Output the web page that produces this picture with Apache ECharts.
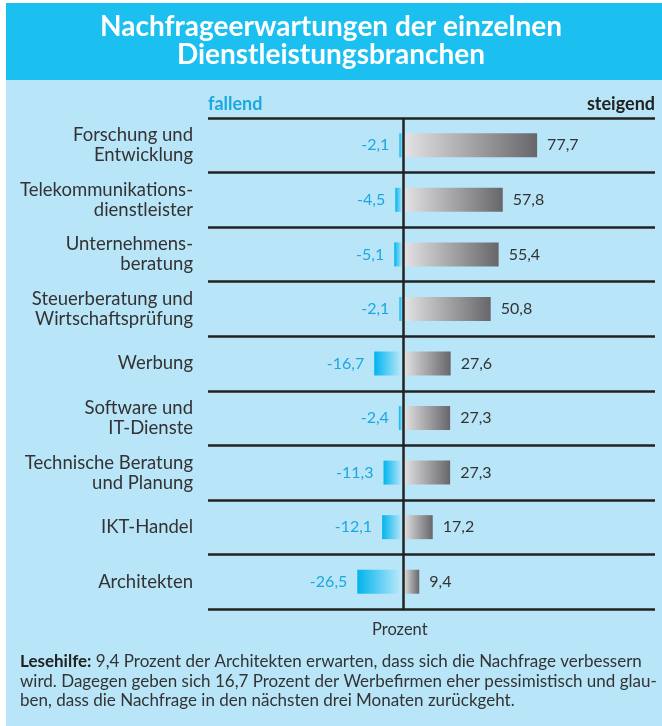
<!DOCTYPE html>
<html>
<head>
<meta charset="utf-8">
<script src="https://cdn.jsdelivr.net/npm/echarts@6/dist/echarts.min.js"></script>
<style>
  html, body { margin: 0; padding: 0; background: #fff; }
  #chart { width: 662px; height: 726px; }
</style>
</head>
<body>
<div id="chart"></div>
<script>
// Branchen (von oben nach unten)
var branchen = [
    'Forschung und\nEntwicklung',
    'Telekommunikations-\ndienstleister',
    'Unternehmens-\nberatung',
    'Steuerberatung und\nWirtschaftsprüfung',
    'Werbung',
    'Software und\nIT-Dienste',
    'Technische Beratung\nund Planung',
    'IKT-Handel',
    'Architekten'
];
// Anteile in Prozent
var fallend = [-2.1, -4.5, -5.1, -2.1, -16.7, -2.4, -11.3, -12.1, -26.5];
var steigend = [77.7, 57.8, 55.4, 50.8, 27.6, 27.3, 27.3, 17.2, 9.4];

var fontName = 'Lato, "Open Sans", sans-serif';

function komma(v) {
    return String(v).replace('.', ',');
}

var myChart = echarts.init(document.getElementById('chart'));
myChart.setOption({
    backgroundColor: '#ffffff',
    animation: false,
    textStyle: {fontFamily: fontName},
    graphic: [
        // Hintergrund
        {type: 'rect', z: -10, shape: {x: 6, y: 3, width: 656, height: 723}, style: {fill: '#b9e5f8'}},
        {type: 'rect', z: -9, shape: {x: 6, y: 3, width: 656, height: 77}, style: {fill: '#1bbff0'}},
        {
            type: 'text', left: 'center', top: 13,
            style: {
                text: 'Nachfrageerwartungen der einzelnen\nDienstleistungsbranchen',
                fill: '#ffffff', font: 'bold 28px ' + fontName,
                textAlign: 'center', lineHeight: 28
            }
        },
        {type: 'text', left: 208, top: 95, style: {text: 'fallend', fill: '#1ba8e0', font: 'bold 18px ' + fontName}},
        {type: 'text', right: 7, top: 95, style: {text: 'steigend', fill: '#222222', font: 'bold 18px ' + fontName}},
        {type: 'text', left: 372, top: 621, style: {text: 'Prozent', fill: '#333333', font: '16.5px ' + fontName}},
        {
            type: 'text', left: 20, top: 652,
            style: {
                text: '{b|Lesehilfe:} 9,4 Prozent der Architekten erwarten, dass sich die Nachfrage verbessern\n' +
                    'wird. Dagegen geben sich 16,7 Prozent der Werbefirmen eher pessimistisch und glau-\n' +
                    'ben, dass die Nachfrage in den nächsten drei Monaten zurückgeht.',
                fill: '#333333', font: '17px ' + fontName, lineHeight: 19.5,
                rich: {
                    b: {fontWeight: 'bold', fontSize: 17, fontFamily: fontName, fill: '#222222'}
                }
            }
        }
    ],
    grid: {left: 208, right: 7, top: 118, bottom: 117},
    xAxis: {
        type: 'value',
        min: -113,
        max: 146,
        show: false
    },
    yAxis: {
        type: 'category',
        inverse: true,
        data: branchen,
        axisLine: {show: false},
        axisTick: {show: false},
        axisLabel: {
            margin: 15,
            color: '#333333',
            fontSize: 18.5,
            lineHeight: 20,
            fontFamily: fontName
        },
        splitLine: {
            show: true,
            lineStyle: {color: '#222222', width: 2.5}
        }
    },
    series: [
        {
            name: 'fallend',
            type: 'bar',
            stack: 'a',
            barWidth: 24,
            data: fallend,
            itemStyle: {
                color: new echarts.graphic.LinearGradient(0, 0, 1, 0, [
                    {offset: 0, color: '#00b4ee'},
                    {offset: 1, color: '#c4eafa'}
                ])
            },
            label: {
                show: true,
                position: 'left',
                distance: 10,
                color: '#1ba8e0',
                fontSize: 16,
                fontFamily: fontName,
                formatter: function (p) { return komma(p.value); }
            },
            markLine: {
                silent: true,
                symbol: 'none',
                label: {show: false},
                lineStyle: {color: '#222222', width: 2.5, type: 'solid'},
                data: [{xAxis: 0}]
            }
        },
        {
            name: 'steigend',
            type: 'bar',
            stack: 'a',
            barWidth: 24,
            data: steigend,
            itemStyle: {
                color: new echarts.graphic.LinearGradient(0, 0, 1, 0, [
                    {offset: 0, color: '#e4e4e6'},
                    {offset: 1, color: '#67676b'}
                ])
            },
            label: {
                show: true,
                position: 'right',
                distance: 10,
                color: '#333333',
                fontSize: 16,
                fontFamily: fontName,
                formatter: function (p) { return komma(p.value); }
            }
        }
    ]
});
</script>
</body>
</html>
